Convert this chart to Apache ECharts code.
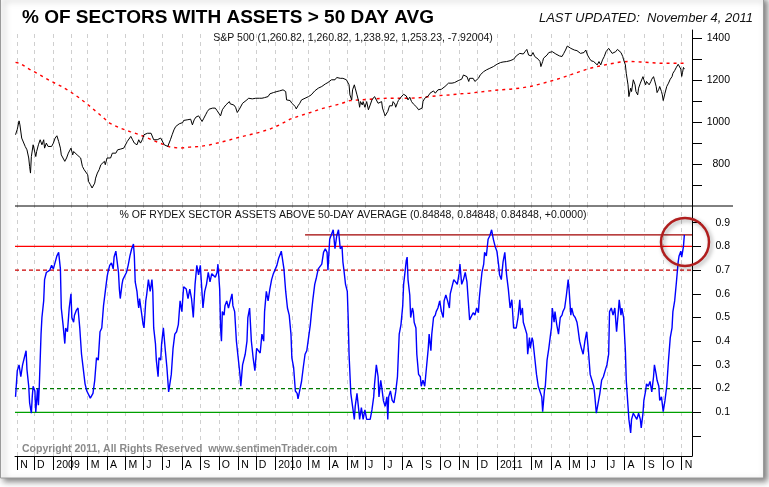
<!DOCTYPE html>
<html><head><meta charset="utf-8">
<script src="https://cdn.jsdelivr.net/npm/echarts@6/dist/echarts.min.js"></script>
<style>html,body{margin:0;padding:0;background:#fff}#c{width:769px;height:487px}</style>
</head><body><div id="c"></div>
<script>
// ---- DATA (x = trading-day index, 0 = Nov 3 2008) ----
const tradingDaysPerMonth = [19,22,20,19,22,21,20,22,22,21,21,22,20,22,19,19,23,21,20,22,21,22,21,21,21,22,20,19,23,20,21,22,20,23,21,21,4];
const monthLabels = ['N','D','2009','','M','A','M','J','J','A','S','O','N','D','2010','','M','A','M','J','J','A','S','O','N','D','2011','','M','A','M','J','J','A','S','O','N'];
const spxTicks = [700,800,900,1000,1100,1200,1300,1400];
const spxTickLabels = [800,1000,1200,1400];
const pctTicks = [0,0.1,0.2,0.3,0.4,0.5,0.6,0.7,0.8,0.9];
const pctTickLabels = [0.1,0.2,0.3,0.4,0.5,0.6,0.7,0.8,0.9];
const refLevels = [0.8,0.7,0.2,0.1];
const lastReading = 0.84848;
const resistanceStartDay = 327;

const spxCloses = [[-2,940],[0,966],[2,1006],[3,987],[5,924],[7,932],[9,884],[11,868],[13,829],[14,789],[15,757],[16,836],[18,892],[19,900],[21,836],[22,860],[24,892],[26,916],[28,892],[30,916],[31,876],[33,900],[35,884],[37,876],[39,884],[41,900],[43,924],[45,935],[47,908],[49,876],[50,844],[52,852],[54,813],[56,829],[58,852],[60,844],[61,876],[63,844],[64,860],[66,868],[68,844],[70,836],[72,829],[74,789],[76,773],[78,765],[80,749],[81,717],[83,702],[85,686],[86,681],[88,709],[89,733],[91,757],[93,773],[95,797],[97,789],[99,813],[100,797],[102,829],[104,836],[106,829],[108,852],[110,860],[112,852],[114,868],[116,860],[117,871],[119,876],[121,876],[123,884],[125,908],[127,916],[129,932],[131,916],[133,900],[135,908],[136,892],[138,916],[140,900],[142,916],[144,940],[146,947],[148,947],[150,940],[152,947],[153,944],[155,916],[157,908],[159,916],[161,908],[163,924],[165,916],[167,892],[169,900],[171,884],[172,892],[174,916],[176,940],[178,963],[180,979],[182,987],[184,992],[186,995],[188,998],[189,1008],[191,1003],[193,1011],[195,1003],[197,1014],[199,987],[201,1011],[203,1024],[205,1027],[206,1030],[208,1024],[210,1003],[212,1019],[214,1035],[216,1051],[218,1062],[220,1071],[222,1067],[224,1059],[225,1067],[227,1055],[229,1051],[231,1030],[233,1059],[235,1071],[237,1082],[239,1090],[241,1098],[242,1087],[244,1093],[246,1082],[248,1071],[250,1046],[252,1059],[254,1067],[256,1090],[258,1098],[260,1103],[261,1109],[263,1114],[265,1106],[267,1111],[269,1106],[271,1114],[273,1106],[275,1114],
[278,1114],[280,1106],[281,1117],[283,1109],[285,1122],[287,1135],[289,1130],[291,1141],[293,1135],[295,1146],[297,1141],[298,1149],[300,1146],[302,1154],[303,1157],[305,1146],[306,1106],[308,1098],[310,1103],[312,1090],[314,1093],[316,1074],[317,1063],[319,1078],[321,1090],[323,1106],[325,1098],[327,1114],[329,1109],[331,1122],[333,1122],[334,1130],[336,1138],[338,1149],[340,1157],[342,1162],[344,1166],[346,1170],[348,1178],[350,1182],[352,1186],[353,1189],[355,1194],[357,1202],[359,1205],[361,1202],[363,1213],[365,1220],[367,1209],[369,1202],[370,1209],[372,1217],[374,1202],[375,1205],[377,1178],[378,1130],[380,1106],[381,1154],[383,1178],[384,1162],[386,1130],[388,1098],[389,1071],[390,1098],[392,1082],[393,1098],[395,1071],[397,1098],[399,1059],[401,1082],[403,1106],[405,1114],[406,1122],[408,1114],[410,1090],[412,1082],[414,1098],[415,1067],[417,1043],[418,1030],[420,1024],[421,1051],[423,1078],[424,1087],[426,1078],[427,1098],[429,1087],[430,1071],[432,1093],[433,1103],[435,1114],[437,1122],[439,1133],[441,1130],[442,1125],[444,1106],[446,1119],[448,1098],[450,1087],[452,1090],[454,1071],[456,1059],[458,1051],[460,1067],[461,1098],[463,1114],[465,1122],[467,1125],[469,1138],[471,1144],[473,1149],[475,1138],[477,1146],[478,1154],[480,1149],[482,1157],[484,1154],[486,1170],[488,1178],[490,1186],[492,1190],[494,1186],[495,1194],[497,1189],[499,1194],[501,1198],[503,1194],[505,1205],[507,1225],[509,1220],[511,1217],[513,1194],[514,1209],[516,1202],[518,1209],[520,1194],[522,1189],[524,1209],[526,1225],[528,1233],[530,1241],[531,1249],[533,1249],[535,1252],[537,1257],[539,1262],[541,1265],[543,1265],[545,1276],[547,1281],[549,1284],[550,1281],[552,1287],[554,1293],[556,1289],[558,1297],[560,1293],
[562,1284],[564,1300],[566,1309],[567,1316],[569,1325],[571,1328],[573,1332],[575,1325],[577,1336],[579,1347],[581,1320],[583,1328],[584,1316],[586,1332],[588,1313],[590,1320],[592,1300],[594,1289],[595,1265],[597,1289],[598,1305],[600,1313],[602,1320],[604,1332],[606,1336],[608,1336],[610,1332],[612,1325],[614,1320],[616,1316],[617,1325],[619,1313],[621,1328],[623,1344],[625,1363],[627,1368],[629,1352],[631,1360],[633,1344],[634,1352],[636,1341],[638,1347],[640,1328],[642,1336],[644,1332],[646,1344],[648,1320],[650,1305],[652,1293],[653,1284],[655,1289],[657,1281],[659,1273],[661,1289],[663,1273],[665,1297],[667,1313],[669,1336],[670,1344],[672,1352],[674,1352],[676,1328],[678,1320],[680,1336],[682,1347],[684,1344],[686,1332],[688,1313],[689,1297],[691,1273],[692,1233],[694,1178],[695,1122],[697,1162],[698,1146],[700,1202],[702,1178],[703,1146],[705,1130],[706,1162],[708,1186],[709,1194],[711,1217],[712,1202],[714,1178],[715,1194],[717,1189],[718,1178],[720,1194],[721,1205],[723,1217],[724,1202],[726,1170],[727,1141],[729,1157],[730,1170],[732,1146],[733,1130],[734,1103],[736,1138],[738,1170],[740,1186],[742,1205],[744,1217],[745,1233],[747,1246],[749,1262],[751,1276],[752,1285],[753,1285],[754,1253],[755,1218],[756,1238],[757,1261],[758,1253]];

const spxMA200 = [[-2,1285],[3,1281],[14,1252],[26,1225],[37,1198],[49,1173],[60,1146],[71,1114],[83,1074],[94,1035],[105,995],[117,971],[128,955],[139,940],[151,919],[162,900],[174,881],[185,876],[196,881],[208,884],[219,892],[230,903],[242,916],[253,929],[264,940],[276,952],[287,967],[298,987],[310,1014],[321,1030],[333,1046],[344,1062],[355,1074],[367,1087],[378,1103],[389,1106],[401,1109],[412,1113],[424,1114],[435,1114],[446,1114],[458,1117],[469,1122],[480,1127],[492,1130],[503,1135],[514,1138],[526,1144],[537,1149],[548,1154],[560,1157],[571,1162],[583,1170],[594,1182],[605,1194],[617,1209],[628,1225],[639,1241],[651,1257],[662,1268],[674,1278],[685,1287],[696,1290],[708,1287],[719,1284],[730,1281],[742,1281],[758,1281]];

const pctAbove50 = [[-2,0.165],[0,0.276],[2,0.30],[4,0.25],[6,0.30],[8,0.33],[10,0.36],[11,0.28],[13,0.21],[14,0.14],[16,0.096],[17,0.165],[18,0.21],[20,0.19],[21,0.10],[23,0.20],[24,0.13],[25,0.21],[27,0.43],[28,0.50],[30,0.57],[31,0.66],[33,0.69],[35,0.685],[37,0.70],[39,0.72],[41,0.705],[43,0.70],[45,0.76],[47,0.775],[48,0.78],[49,0.705],[50,0.54],[52,0.47],[54,0.39],[55,0.456],[57,0.44],[59,0.54],[61,0.60],[62,0.50],[64,0.48],[65,0.51],[67,0.53],[69,0.54],[71,0.456],[73,0.345],[75,0.34],[77,0.22],[79,0.19],[81,0.186],[83,0.16],[84,0.155],[86,0.18],[88,0.235],[90,0.33],[92,0.32],[94,0.44],[96,0.456],[98,0.55],[100,0.61],[102,0.67],[103,0.69],[105,0.72],[107,0.73],[109,0.705],[110,0.755],[112,0.78],[114,0.775],[115,0.69],[116,0.62],[117,0.58],[119,0.64],[120,0.66],[122,0.66],[124,0.69],[126,0.72],[128,0.76],[130,0.79],[131,0.80],[132,0.81],[133,0.76],[134,0.65],[136,0.61],[137,0.57],[138,0.54],[139,0.58],[141,0.525],[143,0.47],[144,0.456],[146,0.57],[147,0.595],[149,0.66],[151,0.61],[153,0.66],[154,0.61],[155,0.456],[157,0.39],[158,0.32],[160,0.25],[161,0.33],[163,0.32],[164,0.39],[166,0.456],[168,0.37],[170,0.29],[172,0.186],[173,0.21],[175,0.26],[177,0.37],[179,0.43],[181,0.44],[183,0.47],[185,0.57],[187,0.525],[189,0.63],[191,0.63],[192,0.62],[194,0.58],[196,0.62],[198,0.58],[200,0.50],[202,0.64],[204,0.72],[206,0.68],[208,0.72],[209,0.66],[211,0.54],[213,0.61],[215,0.64],[217,0.69],[219,0.65],[221,0.685],[223,0.69],[225,0.67],[227,0.69],[228,0.725],[230,0.62],[231,0.456],[232,0.40],[233,0.525],[235,0.51],[236,0.55],[238,0.57],[240,0.54],[242,0.57],[244,0.60],[245,0.55],[247,0.525],[249,0.40],[251,0.33],[253,0.26],[254,0.21],[256,0.30],[258,0.33],[259,0.345],[261,0.40],[262,0.50],[264,0.54],[266,0.40],[268,0.33],[270,0.276],[272,0.37],[274,0.36],[276,0.35],
[278,0.43],[280,0.40],[281,0.525],[283,0.61],[285,0.57],[287,0.62],[289,0.66],[291,0.685],[293,0.69],[295,0.72],[297,0.75],[298,0.76],[300,0.78],[302,0.775],[303,0.705],[305,0.61],[307,0.54],[309,0.51],[311,0.43],[312,0.33],[314,0.29],[316,0.19],[318,0.18],[319,0.157],[321,0.157],[323,0.23],[325,0.29],[327,0.345],[329,0.36],[331,0.36],[333,0.47],[334,0.51],[336,0.58],[338,0.64],[340,0.67],[342,0.705],[344,0.71],[346,0.725],[348,0.775],[350,0.79],[352,0.775],[353,0.70],[355,0.83],[357,0.85],[359,0.87],[361,0.79],[363,0.845],[365,0.87],[367,0.79],[369,0.80],[370,0.735],[371,0.705],[373,0.64],[375,0.61],[376,0.50],[377,0.345],[379,0.18],[381,0.125],[383,0.07],[384,0.125],[386,0.18],[388,0.11],[389,0.07],[391,0.12],[393,0.07],[395,0.11],[397,0.07],[399,0.07],[401,0.07],[403,0.11],[405,0.165],[406,0.22],[408,0.30],[410,0.25],[411,0.165],[413,0.235],[414,0.21],[416,0.15],[418,0.125],[420,0.165],[421,0.07],[422,0.165],[424,0.19],[426,0.15],[428,0.14],[430,0.186],[432,0.25],[434,0.43],[436,0.47],[438,0.55],[439,0.64],[441,0.705],[442,0.74],[443,0.755],[444,0.66],[446,0.595],[447,0.50],[449,0.54],[450,0.525],[451,0.48],[453,0.456],[454,0.345],[456,0.26],[458,0.25],[459,0.21],[461,0.235],[463,0.21],[465,0.29],[467,0.37],[468,0.43],[470,0.36],[471,0.43],[473,0.50],[475,0.51],[476,0.525],[478,0.54],[480,0.57],[482,0.525],[484,0.50],[485,0.57],[487,0.595],[489,0.57],[491,0.54],[492,0.60],[494,0.595],[496,0.66],[498,0.65],[500,0.64],[502,0.685],[503,0.725],[505,0.64],[507,0.66],[509,0.69],[511,0.65],[512,0.595],[514,0.49],[516,0.49],[518,0.52],[520,0.51],[522,0.54],[524,0.52],[525,0.58],[526,0.62],[528,0.69],[530,0.725],[531,0.775],[533,0.76],[535,0.83],[537,0.845],[539,0.87],[541,0.83],[543,0.80],[545,0.78],[547,0.72],[548,0.68],[550,0.66],[552,0.735],[554,0.775],[556,0.68],[558,0.62],[560,0.54],
[562,0.575],[564,0.456],[566,0.456],[567,0.456],[569,0.50],[571,0.575],[572,0.51],[574,0.54],[575,0.48],[577,0.48],[579,0.43],[580,0.345],[582,0.415],[583,0.37],[585,0.415],[586,0.40],[588,0.33],[590,0.26],[592,0.21],[594,0.21],[596,0.165],[597,0.103],[599,0.19],[600,0.21],[602,0.32],[604,0.37],[606,0.43],[607,0.456],[608,0.54],[610,0.48],[611,0.525],[613,0.47],[615,0.43],[617,0.50],[619,0.51],[620,0.525],[622,0.54],[624,0.595],[626,0.66],[627,0.62],[629,0.51],[630,0.54],[632,0.51],[634,0.50],[636,0.48],[637,0.456],[639,0.40],[641,0.37],[643,0.345],[645,0.40],[647,0.44],[649,0.36],[651,0.26],[653,0.235],[655,0.21],[656,0.18],[658,0.096],[660,0.103],[662,0.18],[664,0.235],[666,0.25],[668,0.276],[670,0.30],[672,0.345],[673,0.525],[675,0.54],[677,0.51],[679,0.54],[681,0.44],[683,0.525],[684,0.575],[686,0.51],[687,0.54],[689,0.50],[691,0.36],[692,0.235],[694,0.125],[695,0.07],[697,0.013],[698,0.07],[700,0.096],[702,0.096],[704,0.07],[706,0.096],[708,0.07],[709,0.034],[711,0.096],[712,0.15],[714,0.19],[715,0.22],[717,0.21],[719,0.23],[721,0.186],[723,0.25],[724,0.30],[726,0.26],[727,0.235],[729,0.21],[730,0.15],[732,0.165],[734,0.103],[736,0.15],[738,0.21],[740,0.32],[742,0.415],[744,0.456],[745,0.525],[747,0.57],[749,0.65],[751,0.735],[752,0.76],[754,0.78],[755,0.755],[757,0.80],[758,0.84848]];

// ---- derived tick positions (first trading day of each month) ----
const monthStarts = [];
tradingDaysPerMonth.reduce((acc, n) => { monthStarts.push(acc); return acc + n; }, 0);

const X_MIN = -2.6, X_MAX = 766.7;
const FONT = '"Liberation Sans", Arial, sans-serif';

const chart = echarts.init(document.getElementById('c'), null, {renderer: 'canvas'});

const xCommon = {
  type: 'value', min: X_MIN, max: X_MAX,
  splitLine: {show: false},
  splitArea: {show: false}
};

const refStyles = [
  {color: '#ff0000', type: 'solid'},
  {color: '#cc0000', type: [4, 3]},
  {color: '#007a00', type: [4, 3]},
  {color: '#00a000', type: 'solid'}
];

// vertical monthly gridlines via markLine on helper series (one per panel)
function monthGrid(xi, yi) {
  return {type: 'line', xAxisIndex: xi, yAxisIndex: yi, data: [], silent: true, z: 1,
    markLine: {silent: true, symbol: 'none', animation: false, z: 1, label: {show: false},
      lineStyle: {color: '#cfcfcf', type: [4, 4], width: 1},
      data: monthStarts.map(v => ({xAxis: v}))}};
}

const series = [
  monthGrid(0, 0),
  monthGrid(1, 1),
  {type: 'line', xAxisIndex: 0, yAxisIndex: 0, data: spxMA200, showSymbol: false, symbol: 'none',
   lineStyle: {color: '#ff0000', width: 1.4, type: [3, 4]}, z: 2, silent: true},
  {type: 'line', xAxisIndex: 0, yAxisIndex: 0, data: spxCloses, showSymbol: false, symbol: 'none',
   lineStyle: {color: '#000', width: 1}, z: 3, silent: true}
];
refLevels.forEach((lv, i) => {
  series.push({type: 'line', xAxisIndex: 1, yAxisIndex: 1, data: [[X_MIN, lv], [X_MAX, lv]],
    symbol: 'none', lineStyle: {color: refStyles[i].color, type: refStyles[i].type, width: 1.2}, z: 2, silent: true});
});
series.push({type: 'line', xAxisIndex: 1, yAxisIndex: 1, data: [[resistanceStartDay, lastReading], [X_MAX, lastReading]],
  symbol: 'none', lineStyle: {color: '#a00000', width: 1.3}, z: 2, silent: true});
series.push({type: 'line', xAxisIndex: 1, yAxisIndex: 1, data: pctAbove50, symbol: 'none', showSymbol: false,
  lineStyle: {color: '#0000ff', width: 1.4}, z: 6, silent: true});

chart.setOption({
  animation: false,
  backgroundColor: '#ffffff',
  textStyle: {fontFamily: FONT},
  grid: [
    {left: 15, top: 30, width: 677, height: 176, containLabel: false, outerBoundsMode: 'none'},
    {left: 15, top: 206, width: 677, height: 250, containLabel: false, outerBoundsMode: 'none'}
  ],
  xAxis: [
    Object.assign({}, xCommon, {gridIndex: 0, axisLine: {show: false, onZero: false}, axisLabel: {show: false},
      axisTick: {show: false}}),
    Object.assign({}, xCommon, {gridIndex: 1, position: 'bottom',
      axisLine: {show: true, onZero: false, lineStyle: {color: '#000', width: 1}},
      axisTick: {show: true, customValues: monthStarts, length: 14, lineStyle: {color: '#000', width: 1}},
      axisLabel: {show: true, customValues: monthStarts, align: 'left', verticalAlign: 'top', margin: 4,
        padding: [0, 0, 0, 3], fontSize: 10.5, color: '#000', fontFamily: FONT,
        formatter: v => monthLabels[monthStarts.indexOf(v)] || ''}})
  ],
  yAxis: [
    {gridIndex: 0, type: 'value', position: 'right', min: 600, max: 1439.5,
     axisLine: {show: true, onZero: false, lineStyle: {color: '#000', width: 1}},
     axisTick: {show: true, customValues: spxTicks, length: 10, lineStyle: {color: '#000'}},
     axisLabel: {show: true, customValues: spxTickLabels, align: 'right', margin: 38, fontSize: 10.5, color: '#000', fontFamily: FONT,
       formatter: v => String(v)},
     splitLine: {show: false}},
    {gridIndex: 1, type: 'value', position: 'right', min: -0.0844, max: 0.9705,
     axisLine: {show: true, onZero: false, lineStyle: {color: '#000', width: 1}},
     axisTick: {show: true, customValues: pctTicks, length: 9, lineStyle: {color: '#000'}},
     axisLabel: {show: true, customValues: pctTickLabels, align: 'right', margin: 38, fontSize: 10.5, color: '#000', fontFamily: FONT,
       formatter: v => v.toFixed(1)},
     splitLine: {show: false}}
  ],
  graphic: [
    {type: 'rect', z: -100, silent: true, shape: {x: 0.5, y: -3, width: 763, height: 481},
     style: {fill: '#fff', stroke: '#9a9a9a', lineWidth: 1, shadowBlur: 6, shadowOffsetX: 3, shadowOffsetY: 3, shadowColor: 'rgba(0,0,0,0.5)'}},
    {type: 'line', z: 50, silent: true, shape: {x1: 15, y1: 206, x2: 733, y2: 206}, style: {stroke: '#000', lineWidth: 1}},
    {type: 'text', z: 50, silent: true, x: 22, y: 18,
     style: {text: '% OF SECTORS WITH ASSETS > 50 DAY AVG', font: 'bold 19px ' + FONT, fill: '#000', align: 'left', verticalAlign: 'middle'}},
    {type: 'text', z: 50, silent: true, x: 753, y: 18,
     style: {text: 'LAST UPDATED:  November 4, 2011', font: 'italic 13px ' + FONT, fill: '#111', align: 'right', verticalAlign: 'middle'}},
    {type: 'text', z: 50, silent: true, x: 353, y: 38,
     style: {text: 'S&P 500 (1,260.82, 1,260.82, 1,238.92, 1,253.23, -7.92004)', font: '10.5px ' + FONT, fill: '#111', align: 'center', verticalAlign: 'middle'}},
    {type: 'text', z: 50, silent: true, x: 353, y: 215,
     style: {text: '% OF RYDEX SECTOR ASSETS ABOVE 50-DAY AVERAGE (0.84848, 0.84848, 0.84848, +0.0000)', font: '10.5px ' + FONT, fill: '#111', align: 'center', verticalAlign: 'middle'}},
    {type: 'text', z: 50, silent: true, x: 22, y: 449,
     style: {text: 'Copyright 2011, All Rights Reserved  www.sentimenTrader.com', font: 'bold 10.5px ' + FONT, fill: '#8a8a8a', align: 'left', verticalAlign: 'middle'}},
    {type: 'circle', z: 60, silent: true, shape: {cx: 685, cy: 242, r: 24},
     style: {fill: 'none', stroke: '#b01e1e', lineWidth: 2.5, shadowBlur: 4, shadowOffsetX: 2, shadowOffsetY: 2, shadowColor: 'rgba(0,0,0,0.35)'}}
  ],
  series: series
});
</script>
</body></html>
